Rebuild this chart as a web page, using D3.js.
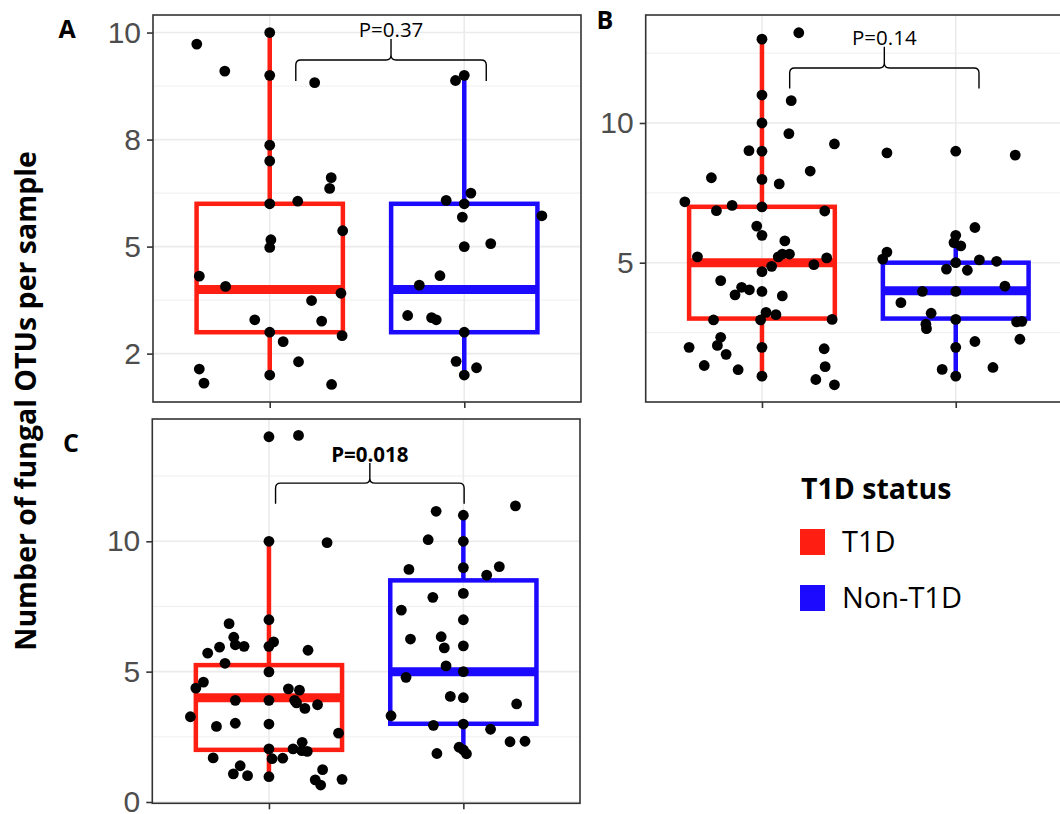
<!DOCTYPE html>
<html>
<head>
  <title>Fungal OTUs by T1D status</title>
  <script src="https://cdn.jsdelivr.net/npm/d3@7"></script>
  <style>
    body { margin: 0; background: #fff; }
    .tick text { font-family: "Liberation Sans", Arial, sans-serif; font-size: 30px; fill: #4d4d4d; }
    .lab { font-family: "Open Sans", sans-serif; fill: #000; }
  </style>
</head>
<body>
  <div id="chart"></div>
  <script>
    const groups = ["T1D", "Non-T1D"];
    const groupColors = ["#ff1e12", "#1c0aff"];

    // box stats per group: [lower whisker, q1, median, q3, upper whisker]
    const boxA = [[2, 3, 4, 6, 10], [2, 3, 4, 6, 9]];
    const boxB = [[1, 3, 5, 7, 13], [1, 3, 4, 5, 6]];
    const boxC = [[1, 2, 4, 5.25, 10], [2, 3, 5, 8.5, 11]];

    // points: [jitter (category units), value]
    const ptsA_T1D = [[-0.375,9.73],[-0.231,9.10],[0,10],[0,9.0],[0.231,8.83],[0,7.37],[0,7.0],[0.316,6.61],[0.308,6.36],[0.144,6.06],[0,6.0],[0.375,5.37],[0.006,5.16],[0,4.98],[-0.362,4.31],[-0.227,4.07],[0.366,3.91],[0.215,3.74],[-0.077,3.29],[0.267,3.26],[0,3.0],[0.372,2.92],[0.069,2.78],[0.148,2.31],[-0.362,2.14],[-0.338,1.81],[0,2.0],[0.318,1.78]];
    const ptsA_Non = [[0,9.0],[-0.045,8.88],[0.034,6.25],[-0.093,6.08],[0,6.0],[0.399,5.72],[-0.01,5.69],[0.136,5.07],[0,5.0],[-0.125,4.32],[-0.231,4.10],[-0.291,3.39],[-0.168,3.34],[-0.144,3.29],[0,3.0],[-0.042,2.32],[0.063,2.17],[0,2.0]];

    const ptsB_T1D = [[0,13],[0.19,13.23],[0,11.0],[0.151,10.8],[0,10.0],[0.139,9.62],[0.374,9.25],[-0.067,9.01],[0,8.99],[0.249,8.28],[-0.261,8.04],[0,7.98],[0.089,7.82],[-0.398,7.18],[-0.154,7.05],[-0.235,6.86],[0.324,6.85],[0,7.0],[-0.027,6.31],[0,5.98],[0.118,5.78],[-0.333,5.21],[0.105,5.31],[0.142,5.31],[0.084,5.21],[0.334,5.17],[0.268,4.93],[0.05,4.87],[0,4.68],[-0.213,4.36],[-0.105,4.12],[-0.065,4.03],[-0.139,3.85],[0,3.97],[0.105,3.81],[0.021,3.22],[0.072,3.14],[-0.007,2.95],[-0.25,2.95],[0.362,2.97],[-0.213,2.33],[-0.23,2.04],[-0.376,1.97],[0,1.97],[0.321,1.92],[-0.185,1.72],[-0.298,1.32],[0.326,1.28],[-0.123,1.17],[0,0.94],[0.278,0.82],[0.374,0.63]];
    const ptsB_Non = [[-0.355,8.93],[0,8.99],[0.307,8.85],[0.099,6.26],[0,5.98],[-0.009,5.72],[0.026,5.6],[-0.355,5.38],[-0.377,5.13],[0.122,5.1],[0.211,5.05],[0,5.0],[-0.048,4.77],[0.06,4.73],[0.254,4.16],[-0.172,3.97],[0,3.97],[-0.283,3.57],[-0.127,3.19],[-0.154,2.8],[-0.151,2.64],[0,2.97],[0.314,2.88],[0.341,2.9],[0.099,2.18],[0.331,2.26],[0,1.97],[-0.07,1.18],[0.192,1.25],[0,0.94]];

    const ptsC_T1D = [[0,14.01],[0.152,14.06],[0,10.0],[0.299,9.95],[0,6.99],[-0.205,6.84],[-0.181,6.32],[-0.173,6.03],[-0.128,5.97],[-0.254,5.94],[-0.315,5.71],[0,5.97],[0.024,6.14],[0.201,5.82],[-0.226,5.32],[0,4.99],[-0.337,4.6],[-0.376,4.37],[0.1,4.34],[0.157,4.29],[-0.173,3.9],[0,3.9],[0.132,3.9],[0.142,3.8],[0.185,3.59],[0.25,3.73],[-0.404,3.27],[-0.27,2.9],[-0.173,3.02],[0,2.99],[0.358,2.64],[0.171,2.29],[0,2.04],[0.124,2.04],[0.197,1.94],[0.169,1.97],[-0.287,1.69],[0.016,1.66],[0.071,1.68],[-0.148,1.39],[-0.183,1.08],[-0.11,1.01],[0,0.97],[0.276,1.24],[0.238,0.85],[0.266,0.65],[0.376,0.87]];
    const ptsC_Non = [[0.268,11.36],[-0.14,11.15],[0,11.0],[-0.181,10.06],[0,10.0],[-0.28,8.92],[0,8.99],[0.185,9.03],[0.12,8.7],[-0.157,7.85],[0,8.0],[-0.319,7.36],[0,6.99],[-0.272,6.25],[-0.114,6.34],[-0.098,5.91],[0,5.99],[-0.089,5.22],[0,5.0],[-0.295,4.78],[-0.067,4.05],[0,4.0],[0.274,3.76],[-0.372,3.31],[-0.154,2.94],[0,2.99],[0.14,2.79],[0.24,2.31],[0.317,2.33],[-0.136,1.86],[-0.022,2.1],[0,2.0],[0.016,1.85]];

    // axes
    const yDomainA = [1.37, 10.41], ticksA = [2.5, 5, 7.5, 10], tickLabelsA = ["2", "5", "8", "10"], minorA = [3.75, 6.25, 8.75];
    const yDomainB = [0.014, 13.865], ticksB = [5, 10], tickLabelsB = ["5", "10"], minorB = [2.5, 7.5, 12.5];
    const yDomainC = [-0.05, 14.69], ticksC = [0, 5, 10], tickLabelsC = ["0", "5", "10"], minorC = [2.5, 7.5, 12.5];

    // brackets: [x start, x end, y of ends, y of bar, y of tip]
    const bracketA = [1.134, 2.113, 8.87, 9.36, 9.85], pLabelA = "P=0.37";
    const bracketB = [1.143, 2.12, 11.23, 11.97, 12.73], pLabelB = "P=0.14";
    const bracketC = [1.034, 2.004, 11.44, 12.23, 13.0], pLabelC = "P=0.018";

    const svg = d3.select("#chart").append("svg")
      .attr("width", 1060).attr("height", 814);

    function drawPanel(p) {
      const x = d3.scalePoint().domain(groups).range([p.left, p.right]).padding(0.6);
      const y = d3.scaleLinear().domain(p.yDomain).range([p.bottom, p.top]);
      const step = x.step();
      const xAt = (pos) => x(groups[0]) + (pos - 1) * step;
      const g = svg.append("g");

      // grid
      g.selectAll(".minor").data(p.minor).join("line")
        .attr("x1", p.left).attr("x2", p.right)
        .attr("y1", d => y(d)).attr("y2", d => y(d))
        .attr("stroke", "#ebebeb").attr("stroke-width", 0.8);
      g.selectAll(".major").data(p.ticks).join("line")
        .attr("x1", p.left).attr("x2", p.right)
        .attr("y1", d => y(d)).attr("y2", d => y(d))
        .attr("stroke", "#ebebeb").attr("stroke-width", 1.6);
      g.selectAll(".vgrid").data(groups).join("line")
        .attr("x1", d => x(d)).attr("x2", d => x(d))
        .attr("y1", p.top).attr("y2", p.bottom)
        .attr("stroke", "#ebebeb").attr("stroke-width", 1.6);

      // boxplots
      p.box.forEach((s, i) => {
        const cx = x(groups[i]), hw = 0.376 * step, col = groupColors[i];
        g.append("line").attr("x1", cx).attr("x2", cx)
          .attr("y1", y(s[3])).attr("y2", y(s[4]))
          .attr("stroke", col).attr("stroke-width", 4.5);
        g.append("line").attr("x1", cx).attr("x2", cx)
          .attr("y1", y(s[1])).attr("y2", y(s[0]))
          .attr("stroke", col).attr("stroke-width", 4.5);
        g.append("rect").attr("x", cx - hw).attr("width", 2 * hw)
          .attr("y", y(s[3])).attr("height", y(s[1]) - y(s[3]))
          .attr("fill", "none").attr("stroke", col).attr("stroke-width", 4.5);
        g.append("line").attr("x1", cx - hw).attr("x2", cx + hw)
          .attr("y1", y(s[2])).attr("y2", y(s[2]))
          .attr("stroke", col).attr("stroke-width", 9);
      });

      // jittered points
      p.pts.forEach((arr, i) => {
        g.selectAll(".pt" + i).data(arr).join("circle")
          .attr("cx", d => x(groups[i]) + d[0] * step)
          .attr("cy", d => y(d[1]))
          .attr("r", 5.4)
          .attr("fill", "#000");
      });

      // panel border
      g.append("rect").attr("x", p.left).attr("y", p.top)
        .attr("width", p.right - p.left).attr("height", p.bottom - p.top)
        .attr("fill", "none").attr("stroke", "#333").attr("stroke-width", 1.6);

      // axes
      const ya = g.append("g").attr("transform", `translate(${p.left},0)`)
        .call(d3.axisLeft(y).tickValues(p.ticks)
          .tickFormat((d, i) => p.tickLabels[i]).tickSize(6).tickPadding(6));
      ya.select(".domain").remove();
      ya.selectAll(".tick line").attr("stroke", "#333").attr("stroke-width", 1.6);

      const xa = g.append("g").attr("transform", `translate(0,${p.bottom})`)
        .call(d3.axisBottom(x).tickSize(6).tickFormat(""));
      xa.select(".domain").remove();
      xa.selectAll(".tick line").attr("stroke", "#333").attr("stroke-width", 1.6);

      // significance brace
      const [b1, b2, yEnd, yBar, yTip] = p.bracket;
      const x1 = xAt(b1), x2 = xAt(b2), cx = (x1 + x2) / 2;
      const ye = y(yEnd), yb = y(yBar), yt = y(yTip), r = 5;
      const path = d3.path();
      path.moveTo(x1, ye); path.lineTo(x1, yb + r);
      path.quadraticCurveTo(x1, yb, x1 + r, yb); path.lineTo(cx - r, yb);
      path.quadraticCurveTo(cx, yb, cx, yb - r); path.lineTo(cx, yt);
      path.moveTo(x2, ye); path.lineTo(x2, yb + r);
      path.quadraticCurveTo(x2, yb, x2 - r, yb); path.lineTo(cx + r, yb);
      path.quadraticCurveTo(cx, yb, cx, yb - r);
      g.append("path").attr("d", path.toString())
        .attr("fill", "none").attr("stroke", "#000").attr("stroke-width", 1.4);
      g.append("text").attr("class", "lab")
        .attr("x", cx).attr("y", yt - 1.5)
        .attr("text-anchor", "middle")
        .attr("font-size", 20.5)
        .attr("font-weight", p.boldP ? 700 : 400)
        .text(p.pLabel);

      // panel letter
      g.append("text").attr("class", "lab")
        .attr("x", p.letterX).attr("y", p.letterY)
        .attr("text-anchor", "middle")
        .attr("font-size", 25).attr("font-weight", 700)
        .text(p.letter);
    }

    drawPanel({ left: 153, right: 581, top: 15, bottom: 402, yDomain: yDomainA,
      ticks: ticksA, tickLabels: tickLabelsA, minor: minorA, box: boxA,
      pts: [ptsA_T1D, ptsA_Non], bracket: bracketA, pLabel: pLabelA, boldP: false,
      letter: "A", letterX: 67, letterY: 38 });
    drawPanel({ left: 645.7, right: 1072, top: 15, bottom: 402, yDomain: yDomainB,
      ticks: ticksB, tickLabels: tickLabelsB, minor: minorB, box: boxB,
      pts: [ptsB_T1D, ptsB_Non], bracket: bracketB, pLabel: pLabelB, boldP: false,
      letter: "B", letterX: 605, letterY: 29 });
    drawPanel({ left: 152.3, right: 580, top: 419, bottom: 803.3, yDomain: yDomainC,
      ticks: ticksC, tickLabels: tickLabelsC, minor: minorC, box: boxC,
      pts: [ptsC_T1D, ptsC_Non], bracket: bracketC, pLabel: pLabelC, boldP: true,
      letter: "C", letterX: 71, letterY: 452 });

    // y-axis title
    svg.append("text").attr("class", "lab")
      .attr("transform", "translate(36,401) rotate(-90)")
      .attr("text-anchor", "middle")
      .attr("font-size", 28.5).attr("font-weight", 700)
      .text("Number of fungal OTUs per sample");

    // legend
    const legend = svg.append("g").attr("transform", "translate(800,0)");
    legend.append("text").attr("class", "lab")
      .attr("x", 1).attr("y", 499)
      .attr("font-size", 28.5).attr("font-weight", 700)
      .text("T1D status");
    const ly = d3.scalePoint().domain(groups).range([529, 585]);
    legend.selectAll(".key").data(groups).join("rect")
      .attr("x", 0).attr("y", d => ly(d))
      .attr("width", 25).attr("height", 26)
      .attr("fill", (d, i) => groupColors[i]);
    legend.selectAll(".keylab").data(groups).join("text")
      .attr("class", "lab")
      .attr("x", 42).attr("y", d => ly(d) + 23)
      .attr("font-size", 29)
      .text(d => d);
  </script>
</body>
</html>
